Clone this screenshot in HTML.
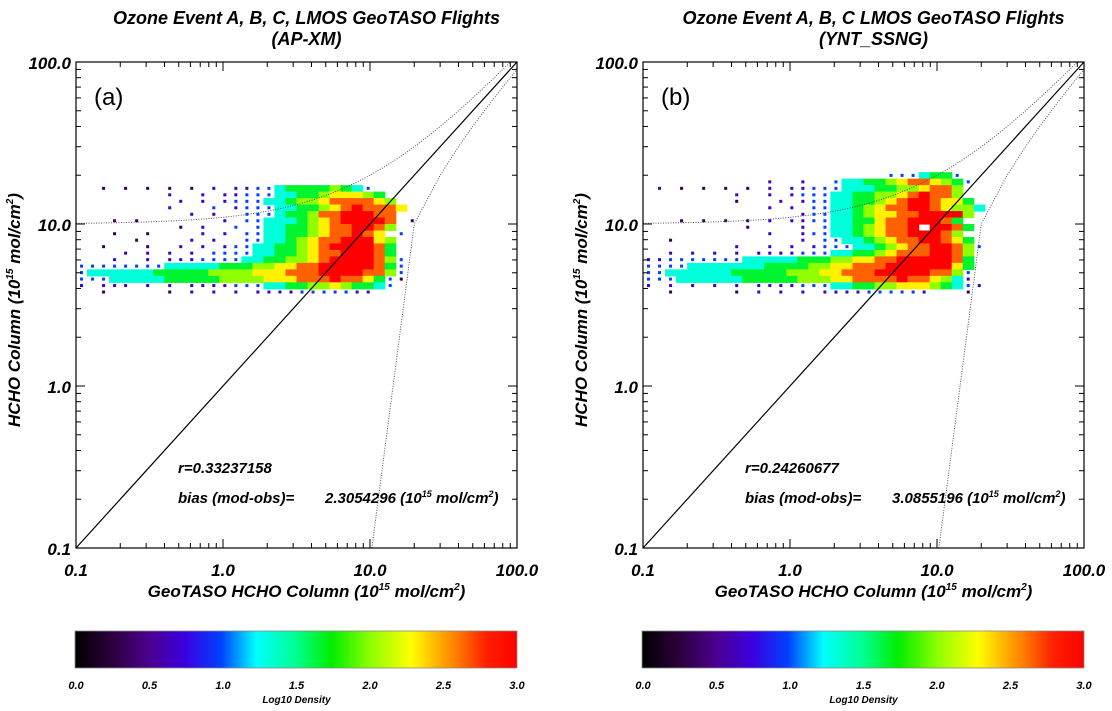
<!DOCTYPE html>
<html><head><meta charset="utf-8">
<style>
html,body{margin:0;padding:0;background:#fff;}
svg{display:block;font-family:"Liberation Sans",sans-serif;}
.t{font-weight:bold;font-style:italic;}
</style></head>
<body>
<svg id="root" width="1112" height="711" viewBox="0 0 1112 711">
<defs>
<linearGradient id="cmap" x1="0" x2="1" y1="0" y2="0">
<stop offset="0" stop-color="#000000"/>
<stop offset="0.08" stop-color="#2a0038"/>
<stop offset="0.17" stop-color="#4c0090"/>
<stop offset="0.25" stop-color="#3a00e0"/>
<stop offset="0.33" stop-color="#0040ff"/>
<stop offset="0.41" stop-color="#00ffff"/>
<stop offset="0.5" stop-color="#00ff90"/>
<stop offset="0.58" stop-color="#00ee00"/>
<stop offset="0.67" stop-color="#90ff00"/>
<stop offset="0.76" stop-color="#ffff00"/>
<stop offset="0.86" stop-color="#ff8000"/>
<stop offset="0.93" stop-color="#ff2000"/>
<stop offset="1" stop-color="#ff0000"/>
</linearGradient>
</defs>
</svg>
<script>
// ---- data ----
const tickValues = [0.1, 1, 10, 100];
const tickLabels = ["0.1", "1.0", "10.0", "100.0"];
const cbTicks = [0.0, 0.5, 1.0, 1.5, 2.0, 2.5, 3.0];
const cbLabels = ["0.0", "0.5", "1.0", "1.5", "2.0", "2.5", "3.0"];
// density grid: rows log10(y) from 1.30 down by 0.04; cols log10(x) from -1 by 0.075; digit d -> log10 density d/3
const rowLogY0 = 1.30, rowStep = 0.04, colLogX0 = -1.0, colStep = 0.075;
const gridA = [
"...............................",
"...............................",
"..1.1.1.1.1.2.2233455556543....",
"........2..2.223334455677765...",
".........2.2.2333445667888876..",
"........2...3.2333445567898887.",
"..........2.2..33345568899988..",
"...1.1.......2.33444567899998.1",
".........1.2..3.3445567889986..",
"...1..1....2.2.3344556788987.3.",
".....1....2.2..33445678899976..",
"..1...1..2.2.2334455678999985..",
"....2.2.2.2.33334455678899985..",
"...2..2.2223333445566789999863.",
"333333334444455566778899999853.",
"344444455555666677788899998863.",
"333444445555566667778889887531.",
"2.222.2.2.2222333445566765543..",
"..1.....1.2.2.2.22223333322...."
];
const gridB = [
"......................3334553..",
"...........2..2..3445567887653.",
".2.1.1.1.1.2.2233344455667886..",
"........2..2.2333445566789886...",
"........1...2.2334455678998775.",
"...........2.2.3344567889987664",
"..............2334456778899996.",
"...1.1.1.1.2.2233445578899985..",
".........1....2.344567889.9985.",
"...........2..233445678899986..",
"..1...........2.33445678899875.",
"........2..2.2.2333445678899863",
"..2.2.2.2.22223334455678889986.",
"223333333444445556677889999985.",
"333344444445555667788899999975.",
"334444445555566677888999998863.",
"333444444555556667788889887642.",
"2.2.2.2.2.222233344556677765432",
"..1.....1.2.2.2.2222333332...1."
];
const statsA = {r: "r=0.33237158", bias: "2.3054296"};
const statsB = {r: "r=0.24260677", bias: "3.0855196"};

const NS = "http://www.w3.org/2000/svg";
const root = document.getElementById('root');
function mk(tag, attrs, parent) {
  const e = document.createElementNS(NS, tag);
  for (const k in attrs) e.setAttribute(k, attrs[k]);
  (parent || root).appendChild(e);
  return e;
}
function colorOf(v) {
  const stops = [[0,[0,0,0]],[0.25,[42,0,56]],[0.5,[76,0,144]],[0.75,[58,0,224]],[1.0,[0,64,255]],[1.25,[0,255,255]],[1.5,[0,255,144]],[1.75,[0,238,0]],[2.0,[144,255,0]],[2.3,[255,255,0]],[2.6,[255,128,0]],[2.8,[255,32,0]],[3.0,[255,0,0]]];
  for (let i = 1; i < stops.length; i++) {
    if (v <= stops[i][0]) {
      const a = stops[i-1], b = stops[i], t = (v - a[0]) / (b[0] - a[0]);
      const c = a[1].map((x, j) => Math.round(x + (b[1][j] - x) * t));
      return `rgb(${c[0]},${c[1]},${c[2]})`;
    }
  }
  return 'rgb(255,0,0)';
}

function panel(ox, title1, title2, letter, grid, stats, id) {
  const L = ox, R = ox + 441, T = 62, B = 548;
  const xs = v => L + (Math.log10(v) + 1) / 3 * (R - L);
  const ys = v => B - (Math.log10(v) + 1) / 3 * (B - T);
  const g = mk('g', {}, root);
  
  
  const cx = (L + R) / 2;
  const t1 = mk('text', {x: cx + 10, y: 24, 'text-anchor': 'middle', 'font-size': 18, class: 't'}, g);
  t1.textContent = title1;
  
  
  const t2 = mk('text', {x: cx + 10, y: 45, 'text-anchor': 'middle', 'font-size': 18, class: 't'}, g);
  t2.textContent = title2;
  
  

  const dg = mk('g', {}, g);
  
  
  grid.forEach((row, ri) => {
    const ly = rowLogY0 - ri * rowStep;
    for (let ci = 0; ci < row.length; ci++) {
      const ch = row[ci];
      if (ch === '.') continue;
      const d = +ch;
      const lx = colLogX0 + ci * colStep;
      const x0 = xs(Math.pow(10, lx)), x1 = xs(Math.pow(10, lx + colStep));
      const y0 = ys(Math.pow(10, ly + rowStep / 2)), y1 = ys(Math.pow(10, ly - rowStep / 2));
      const col = colorOf(d / 3);
      let r;
      if (d <= 3) {
        const px = (x0 + x1) / 2, py = (y0 + y1) / 2;
        r = mk('rect', {x: px - 1.5, y: py - 1.5, width: 3, height: 3, fill: col}, dg);
      } else {
        r = mk('rect', {x: x0, y: y0, width: x1 - x0 + 0.6, height: y1 - y0 + 0.6, fill: col}, dg);
      }
      
      
    }
  });

  const one = mk('line', {x1: xs(0.1), y1: ys(0.1), x2: xs(100), y2: ys(100), stroke: '#000', 'stroke-width': 1.2}, g);
  
  
  let up = [];
  for (let k = 0; k <= 60; k++) { const x = Math.pow(10, -1 + k * 0.05); if (x + 10 <= 100) up.push(xs(x) + ',' + ys(x + 10)); else { up.push(xs(90) + ',' + ys(100)); break; } }
  const upl = mk('polyline', {points: up.join(' '), fill: 'none', stroke: '#555', 'stroke-width': 1, 'stroke-dasharray': '1,1.5'}, g);
  
  
  let lo = [xs(10.3) + ',' + ys(0.1)];
  for (let x = 20; x <= 100; x += 10) lo.push(xs(x) + ',' + ys(x - 10));
  const lol = mk('polyline', {points: lo.join(' '), fill: 'none', stroke: '#555', 'stroke-width': 1, 'stroke-dasharray': '1,1.5'}, g);
  
  

  const fr = mk('rect', {x: L, y: T, width: R - L, height: B - T, fill: 'none', stroke: '#000', 'stroke-width': 1.2}, g);
  
  
  for (let dec = -1; dec < 2; dec++) {
    for (let m = 1; m <= 9; m++) {
      const v = m * Math.pow(10, dec);
      const len = m === 1 ? 9 : 5;
      const X = xs(v), Y = ys(v);
      [[X, B, X, B - len], [X, T, X, T + len], [L, Y, L + len, Y], [R, Y, R - len, Y]].forEach(p => {
        const tk = mk('line', {x1: p[0], y1: p[1], x2: p[2], y2: p[3], stroke: '#000', 'stroke-width': 1}, g);
        
        
      });
    }
  }
  tickValues.forEach((v, i) => {
    const tx = mk('text', {x: xs(v), y: 576, 'text-anchor': 'middle', 'font-size': 17, class: 't'}, g);
    tx.textContent = tickLabels[i];
    
    
    const ty = mk('text', {x: L - 5, y: ys(v) + 7, 'text-anchor': 'end', 'font-size': 17, class: 't'}, g);
    ty.textContent = tickLabels[i];
    
    
  });
  const xt = mk('text', {x: cx + 10, y: 597, 'text-anchor': 'middle', 'font-size': 17, class: 't'}, g);
  xt.innerHTML = 'GeoTASO HCHO Column (10<tspan dy="-7" font-size="10">15</tspan><tspan dy="7"> mol/cm</tspan><tspan dy="-7" font-size="10">2</tspan><tspan dy="7">)</tspan>';
  
  
  const yt = mk('text', {x: 0, y: 0, 'text-anchor': 'middle', 'font-size': 17, class: 't', transform: `translate(${L - 56},${(T + B) / 2 + 5}) rotate(-90)`}, g);
  yt.innerHTML = 'HCHO Column (10<tspan dy="-7" font-size="10">15</tspan><tspan dy="7"> mol/cm</tspan><tspan dy="-7" font-size="10">2</tspan><tspan dy="7">)</tspan>';
  
  
  const lt = mk('text', {x: L + 18, y: 105, 'font-size': 24}, g);
  lt.textContent = letter;
  
  
  const sr = mk('text', {x: L + 102, y: 473, 'font-size': 15, class: 't'}, g);
  sr.textContent = stats.r;
  
  
  const sb = mk('text', {x: L + 102, y: 503, 'font-size': 15, class: 't'}, g);
  sb.textContent = 'bias (mod-obs)=';
  
  
  const sv = mk('text', {x: L + 249, y: 503, 'font-size': 15, class: 't'}, g);
  sv.innerHTML = stats.bias + ' (10<tspan dy="-6" font-size="9">15</tspan><tspan dy="6"> mol/cm</tspan><tspan dy="-6" font-size="9">2</tspan><tspan dy="6">)</tspan>';
  
  

  const cb = mk('rect', {x: L - 1, y: 631, width: R - L + 1, height: 37, fill: 'url(#cmap)', stroke: '#888', 'stroke-width': 0.8}, g);
  
  
  cbTicks.forEach((v, i) => {
    const t = mk('text', {x: L + v / 3 * (R - L), y: 689, 'text-anchor': 'middle', 'font-size': 11, class: 't'}, g);
    t.textContent = cbLabels[i];
    
    
  });
  const ct = mk('text', {x: cx, y: 703, 'text-anchor': 'middle', 'font-size': 10, class: 't'}, g);
  ct.textContent = 'Log10 Density';
  
  
}
panel(76, 'Ozone Event A, B, C, LMOS GeoTASO Flights', '(AP-XM)', '(a)', gridA, statsA, 'a');
panel(643, 'Ozone Event A, B, C LMOS GeoTASO Flights', '(YNT_SSNG)', '(b)', gridB, statsB, 'b');
</script>
</body></html>
